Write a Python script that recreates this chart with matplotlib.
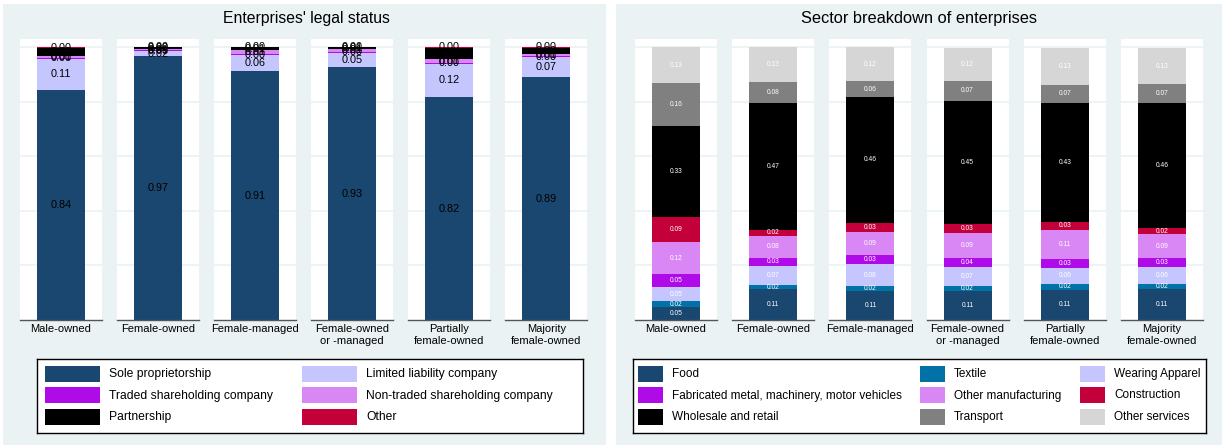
import numpy as np
import matplotlib.pyplot as plt
from matplotlib.patches import Rectangle

plt.rcParams['font.family'] = ['Liberation Sans', 'DejaVu Sans']

groups = ["Male-owned", "Female-owned", "Female-managed",
          "Female-owned\nor -managed", "Partially\nfemale-owned", "Majority\nfemale-owned"]

# legal status shares (bottom to top)
legal_names = ["Sole proprietorship", "Limited liability company", "Traded shareholding company",
               "Non-traded shareholding company", "Partnership", "Other"]
sole = [0.843, 0.966, 0.911, 0.926, 0.816, 0.889]
llc = [0.114, 0.020, 0.060, 0.054, 0.124, 0.074]
traded = [0.004, 0.002, 0.004, 0.003, 0.003, 0.003]
nontraded = [0.008, 0.007, 0.014, 0.010, 0.015, 0.010]
partnership = [0.028, 0.004, 0.010, 0.006, 0.040, 0.022]
other_legal = [0.003, 0.001, 0.002, 0.001, 0.002, 0.002]
legal = [sole, llc, traded, nontraded, partnership, other_legal]

# sector shares (bottom to top)
sector_names = ["Food", "Textile", "Wearing Apparel", "Fabricated metal, machinery, motor vehicles",
                "Other manufacturing", "Construction", "Wholesale and retail", "Transport",
                "Other services"]
food = [0.047, 0.112, 0.106, 0.106, 0.110, 0.114]
textile = [0.023, 0.016, 0.019, 0.019, 0.022, 0.018]
apparel = [0.050, 0.071, 0.079, 0.068, 0.060, 0.063]
fabricated = [0.048, 0.029, 0.033, 0.036, 0.033, 0.032]
other_manuf = [0.117, 0.080, 0.086, 0.091, 0.106, 0.087]
construction = [0.092, 0.022, 0.033, 0.032, 0.030, 0.024]
wholesale = [0.334, 0.467, 0.462, 0.451, 0.434, 0.456]
transport = [0.158, 0.076, 0.057, 0.074, 0.068, 0.070]
other_serv = [0.131, 0.127, 0.124, 0.121, 0.134, 0.134]
sector = [food, textile, apparel, fabricated, other_manuf, construction, wholesale, transport, other_serv]

navy = "#1a476f"
lav = "#c6c6ff"
purple = "#ae0be8"
violet = "#d987f4"
crimson = "#c4003a"
legal_colors = [navy, lav, purple, violet, "black", crimson]
sector_colors = [navy, "#0072a8", lav, purple, violet, crimson, "black", "#808080", "#d6d6d6"]

bg = "#eaf2f3"
W, H = 1225, 448
fig = plt.figure(figsize=(W / 100, H / 100), dpi=100)
fig.patch.set_facecolor("white")


def px(x0, y0, w, h):
    return [x0 / W, 1 - (y0 + h) / H, w / W, h / H]


# panel backgrounds
for x0, x1 in [(3, 606), (616, 1222)]:
    fig.patches.append(Rectangle((x0 / W, 3 / H), (x1 - x0) / W, (H - 7) / H,
                                 transform=fig.transFigure, facecolor=bg, edgecolor="none", zorder=-5))

fig.text(306 / W, 1 - 18 / H, "Enterprises' legal status", ha="center", va="center", fontsize=11.3)
fig.text(919 / W, 1 - 18 / H, "Sector breakdown of enterprises", ha="center", va="center", fontsize=11.8)


def draw_panel(x_start, step, series, colors, txt_color, txt_size):
    for i, g in enumerate(groups):
        ax = fig.add_axes(px(x_start + i * step, 39, 82, 281))
        ax.set_facecolor("white")
        ax.set_xlim(-0.5, 0.5)
        ax.set_ylim(0, 1.03)
        ax.set_yticks([0.2, 0.4, 0.6, 0.8, 1.0])
        ax.yaxis.grid(True, color=bg, linewidth=1.2)
        ax.set_axisbelow(True)
        ax.tick_params(axis="y", left=False, labelleft=False)
        ax.set_xticks([0])
        ax.set_xticklabels([g], fontsize=8, linespacing=1.2)
        ax.tick_params(axis="x", length=0, pad=3)
        for s in ["top", "left", "right"]:
            ax.spines[s].set_visible(False)
        ax.spines["bottom"].set_color("#555555")
        ax.spines["bottom"].set_linewidth(1.0)
        bottom = 0.0
        for vals, c in zip(series, colors):
            v = vals[i]
            ax.bar(0, v, width=0.585, bottom=bottom, color=c, edgecolor="none")
            ax.text(0, bottom + v / 2, "%.2f" % v, ha="center", va="center",
                    color=txt_color, fontsize=txt_size)
            bottom += v


draw_panel(20, 97.05, legal, legal_colors, "black", 7.8)
draw_panel(635, 97.2, sector, sector_colors, "white", 4.8)


def draw_legend(box, names, colors, ncol, col_x, sw_w, fs):
    x0, y0, w, h = box
    lax = fig.add_axes(px(x0, y0, w, h))
    lax.set_xlim(x0, x0 + w)
    lax.set_ylim(y0 + h, y0)
    lax.set_xticks([])
    lax.set_yticks([])
    for s in lax.spines.values():
        s.set_linewidth(1.0)
        s.set_color("black")
    rows_y = [374, 395.5, 417]
    for k, (n, c) in enumerate(zip(names, colors)):
        r, cc = divmod(k, ncol)
        xs = col_x[cc]
        lax.add_patch(Rectangle((xs, rows_y[r] - 8), sw_w, 16, facecolor=c, edgecolor="none"))
        lax.text(xs + sw_w + 9, rows_y[r], n, va="center", ha="left", fontsize=fs)


draw_legend((37, 359, 546, 74), legal_names, legal_colors, 2, [45, 302], 55, 8.7)
draw_legend((633, 359, 573, 74), sector_names, sector_colors, 3, [638, 920, 1080], 25, 8.5)

fig.savefig("out.png", dpi=100)
